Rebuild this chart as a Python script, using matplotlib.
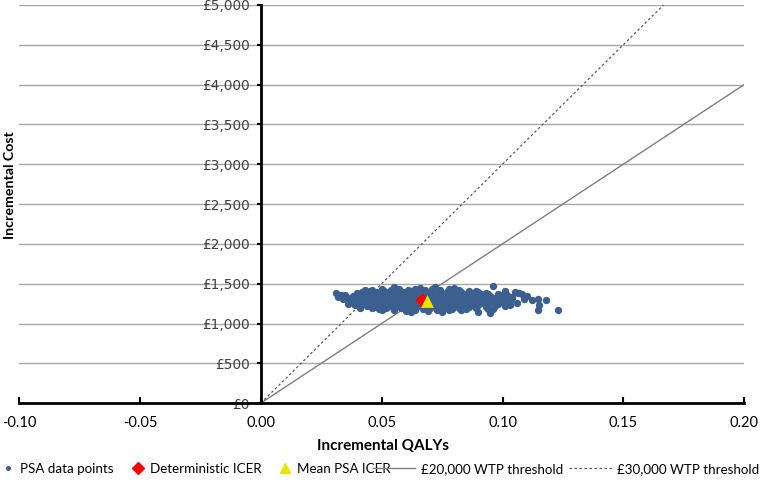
import matplotlib.pyplot as plt
from matplotlib.lines import Line2D
from matplotlib.ticker import FuncFormatter

# PSA cloud (core approximated in rows)
psa_points = [
    # upper-left tail
    (0.031, 1385), (0.033, 1362), (0.032, 1335), (0.035, 1352), (0.036, 1318),
    (0.037, 1293), (0.038, 1262), (0.036, 1245), (0.039, 1228), (0.034, 1305),
    (0.038, 1340), (0.040, 1385), (0.043, 1420), (0.041, 1200),
    # top edge
    (0.046, 1418), (0.050, 1428), (0.054, 1422), (0.057, 1435), (0.061, 1420),
    (0.064, 1430), (0.068, 1425), (0.071, 1438), (0.074, 1418), (0.078, 1430),
    (0.082, 1420), (0.086, 1412), (0.089, 1405),
    (0.055, 1452), (0.066, 1448), (0.072, 1455), (0.096, 1468), (0.080, 1445),
    # core
    (0.042, 1395), (0.045, 1402), (0.048, 1392), (0.051, 1405), (0.053, 1396),
    (0.056, 1400), (0.059, 1392), (0.062, 1404), (0.065, 1395), (0.068, 1402),
    (0.071, 1393), (0.074, 1400), (0.077, 1396), (0.080, 1404), (0.083, 1392),
    (0.086, 1398), (0.090, 1390), (0.093, 1385),
    (0.040, 1372), (0.043, 1368), (0.046, 1376), (0.049, 1370), (0.052, 1375),
    (0.055, 1367), (0.058, 1373), (0.061, 1370), (0.064, 1377), (0.067, 1369),
    (0.070, 1374), (0.073, 1368), (0.076, 1376), (0.079, 1371), (0.082, 1366),
    (0.085, 1374), (0.088, 1368), (0.091, 1372), (0.094, 1365), (0.098, 1370),
    (0.102, 1362), (0.107, 1378),
    (0.041, 1345), (0.044, 1350), (0.047, 1342), (0.050, 1348), (0.053, 1344),
    (0.056, 1351), (0.059, 1343), (0.062, 1347), (0.065, 1341), (0.068, 1349),
    (0.071, 1344), (0.074, 1350), (0.077, 1342), (0.080, 1347), (0.083, 1352),
    (0.086, 1343), (0.089, 1348), (0.092, 1340), (0.095, 1346), (0.099, 1352),
    (0.104, 1338), (0.110, 1342),
    (0.039, 1320), (0.042, 1316), (0.045, 1324), (0.048, 1318), (0.051, 1322),
    (0.054, 1315), (0.057, 1321), (0.060, 1325), (0.063, 1317), (0.066, 1322),
    (0.069, 1318), (0.072, 1324), (0.075, 1316), (0.078, 1321), (0.081, 1325),
    (0.084, 1318), (0.087, 1322), (0.090, 1315), (0.093, 1320), (0.096, 1326),
    (0.100, 1314), (0.104, 1320), (0.109, 1312), (0.1145, 1305),
    (0.040, 1293), (0.043, 1298), (0.046, 1290), (0.049, 1296), (0.052, 1292),
    (0.055, 1299), (0.058, 1291), (0.061, 1295), (0.064, 1288), (0.067, 1296),
    (0.070, 1292), (0.073, 1298), (0.076, 1290), (0.079, 1295), (0.082, 1300),
    (0.085, 1291), (0.088, 1296), (0.091, 1289), (0.094, 1294), (0.098, 1300),
    (0.102, 1288), (0.112, 1292), (0.118, 1292),
    (0.041, 1268), (0.044, 1264), (0.047, 1271), (0.050, 1266), (0.053, 1270),
    (0.056, 1263), (0.059, 1269), (0.062, 1273), (0.065, 1265), (0.068, 1270),
    (0.071, 1266), (0.074, 1272), (0.077, 1264), (0.080, 1269), (0.083, 1274),
    (0.086, 1266), (0.089, 1270), (0.092, 1262), (0.096, 1268), (0.100, 1274),
    (0.106, 1262),
    (0.042, 1242), (0.045, 1238), (0.048, 1245), (0.051, 1240), (0.054, 1246),
    (0.057, 1238), (0.060, 1243), (0.063, 1248), (0.066, 1240), (0.069, 1245),
    (0.072, 1238), (0.075, 1244), (0.078, 1240), (0.081, 1247), (0.084, 1239),
    (0.087, 1244), (0.090, 1236), (0.094, 1242), (0.098, 1248), (0.103, 1235),
    (0.115, 1230),
    (0.044, 1216), (0.047, 1212), (0.050, 1219), (0.053, 1214), (0.056, 1220),
    (0.059, 1212), (0.062, 1217), (0.065, 1222), (0.068, 1214), (0.071, 1219),
    (0.074, 1212), (0.077, 1218), (0.080, 1214), (0.083, 1220), (0.086, 1212),
    (0.089, 1216), (0.093, 1210), (0.101, 1215),
    (0.046, 1190), (0.049, 1186), (0.052, 1194), (0.055, 1188), (0.058, 1192),
    (0.061, 1185), (0.064, 1191), (0.067, 1188), (0.070, 1194), (0.073, 1186),
    (0.076, 1190), (0.079, 1185), (0.082, 1192), (0.085, 1187), (0.089, 1190),
    (0.094, 1184),
    # bottom edge and right-hand scatter
    (0.050, 1165), (0.055, 1170), (0.060, 1162), (0.064, 1168), (0.069, 1160),
    (0.073, 1170), (0.078, 1164), (0.083, 1168), (0.062, 1145), (0.075, 1150),
    (0.090, 1142), (0.095, 1130), (0.1145, 1167), (0.123, 1168),
    (0.1066, 1380), (0.108, 1368), (0.105, 1395), (0.101, 1408), (0.099, 1330),
    (0.097, 1215), (0.096, 1185), (0.103, 1280),
]
psa_qaly = [p[0] for p in psa_points]
psa_cost = [p[1] for p in psa_points]

deterministic_icer = (0.0668, 1292)
mean_psa_icer = (0.0689, 1284)
thresholds = [20000, 30000]

x_ticks = [-0.10, -0.05, 0.00, 0.05, 0.10, 0.15, 0.20]
y_ticks = list(range(0, 5001, 500))

plt.rcParams['font.family'] = ['Lato', 'DejaVu Sans']

blue = '#3b6090'
line20 = '#7f7f7f'
line30 = '#595959'
dash30 = (0, (2, 2))

fig = plt.figure(figsize=(7.61, 4.84), dpi=100)
ax = fig.add_axes([0.025, 0.167, 0.953, 0.823])

ax.set_xlim(-0.10, 0.20)
ax.set_ylim(0, 5000)

for y in y_ticks[1:]:
    ax.axhline(y, color='#a6a6a6', lw=1.0, zorder=0)

line_x = [0.0, 0.20]
ax.plot(line_x, [thresholds[0] * x for x in line_x], color=line20, lw=1.0,
        zorder=2)
ax.plot(line_x, [thresholds[1] * x for x in line_x], color=line30, lw=0.9,
        linestyle=dash30, zorder=2)

ax.scatter(psa_qaly, psa_cost, s=28, color=blue, linewidths=0, zorder=3)
ax.scatter(*deterministic_icer, marker='D', s=55, color='#ff0000',
           linewidths=0, zorder=4)
ax.scatter(*mean_psa_icer, marker='^', s=85, color='#e6e600',
           linewidths=0, zorder=5)

for side in ('top', 'right'):
    ax.spines[side].set_visible(False)
ax.spines['left'].set_position(('data', 0))
ax.spines['left'].set_linewidth(2.0)
ax.spines['bottom'].set_linewidth(2.0)

ax.set_xticks(x_ticks)
ax.xaxis.set_major_formatter(FuncFormatter(lambda v, _: f"{v:.2f}"))
ax.set_yticks(y_ticks)
ax.yaxis.set_major_formatter(FuncFormatter(lambda v, _: f"£{int(v):,}"))
ax.tick_params(axis='x', direction='in', length=4, width=1.5, labelsize=10.5,
               pad=9)
ax.tick_params(axis='y', direction='out', length=3, width=1.5, labelsize=9.8,
               labelcolor='#404040', pad=5)
for lbl in ax.get_yticklabels():
    lbl.set_family('DejaVu Sans')

fig.text(0.503, 0.078, 'Incremental QALYs', ha='center', va='center',
         fontsize=11, fontweight='bold')
fig.text(0.013, 0.618, 'Incremental Cost', ha='center', va='center',
         rotation=90, fontsize=10.2, fontweight='bold')

# marker entries have short handles, the threshold lines long ones
marker_handles = [
    Line2D([], [], marker='o', ms=2.6, color=blue, lw=0),
    Line2D([], [], marker='D', ms=6, color='#ff0000', lw=0),
    Line2D([], [], marker='^', ms=7, color='#e6e600', lw=0),
]
marker_labels = ['PSA data points', 'Deterministic ICER', 'Mean PSA ICER']
line_handles = [
    Line2D([], [], color=line20, lw=1.0),
    Line2D([], [], color=line30, lw=0.9, linestyle=dash30),
]
line_labels = ['£20,000 WTP threshold', '£30,000 WTP threshold']

fig.legend(marker_handles, marker_labels, loc='center left',
           bbox_to_anchor=(0.0, 0.031), ncol=3, frameon=False,
           fontsize=9.6, handlelength=0.8, handletextpad=0.5,
           columnspacing=1.4, borderaxespad=0, borderpad=0.2)
fig.legend(line_handles, line_labels, loc='center right',
           bbox_to_anchor=(1.0, 0.031), ncol=2, frameon=False,
           fontsize=9.6, handlelength=3.2, handletextpad=0.4,
           columnspacing=0.5, borderaxespad=0, borderpad=0.1)

fig.savefig('out.png', dpi=100)
